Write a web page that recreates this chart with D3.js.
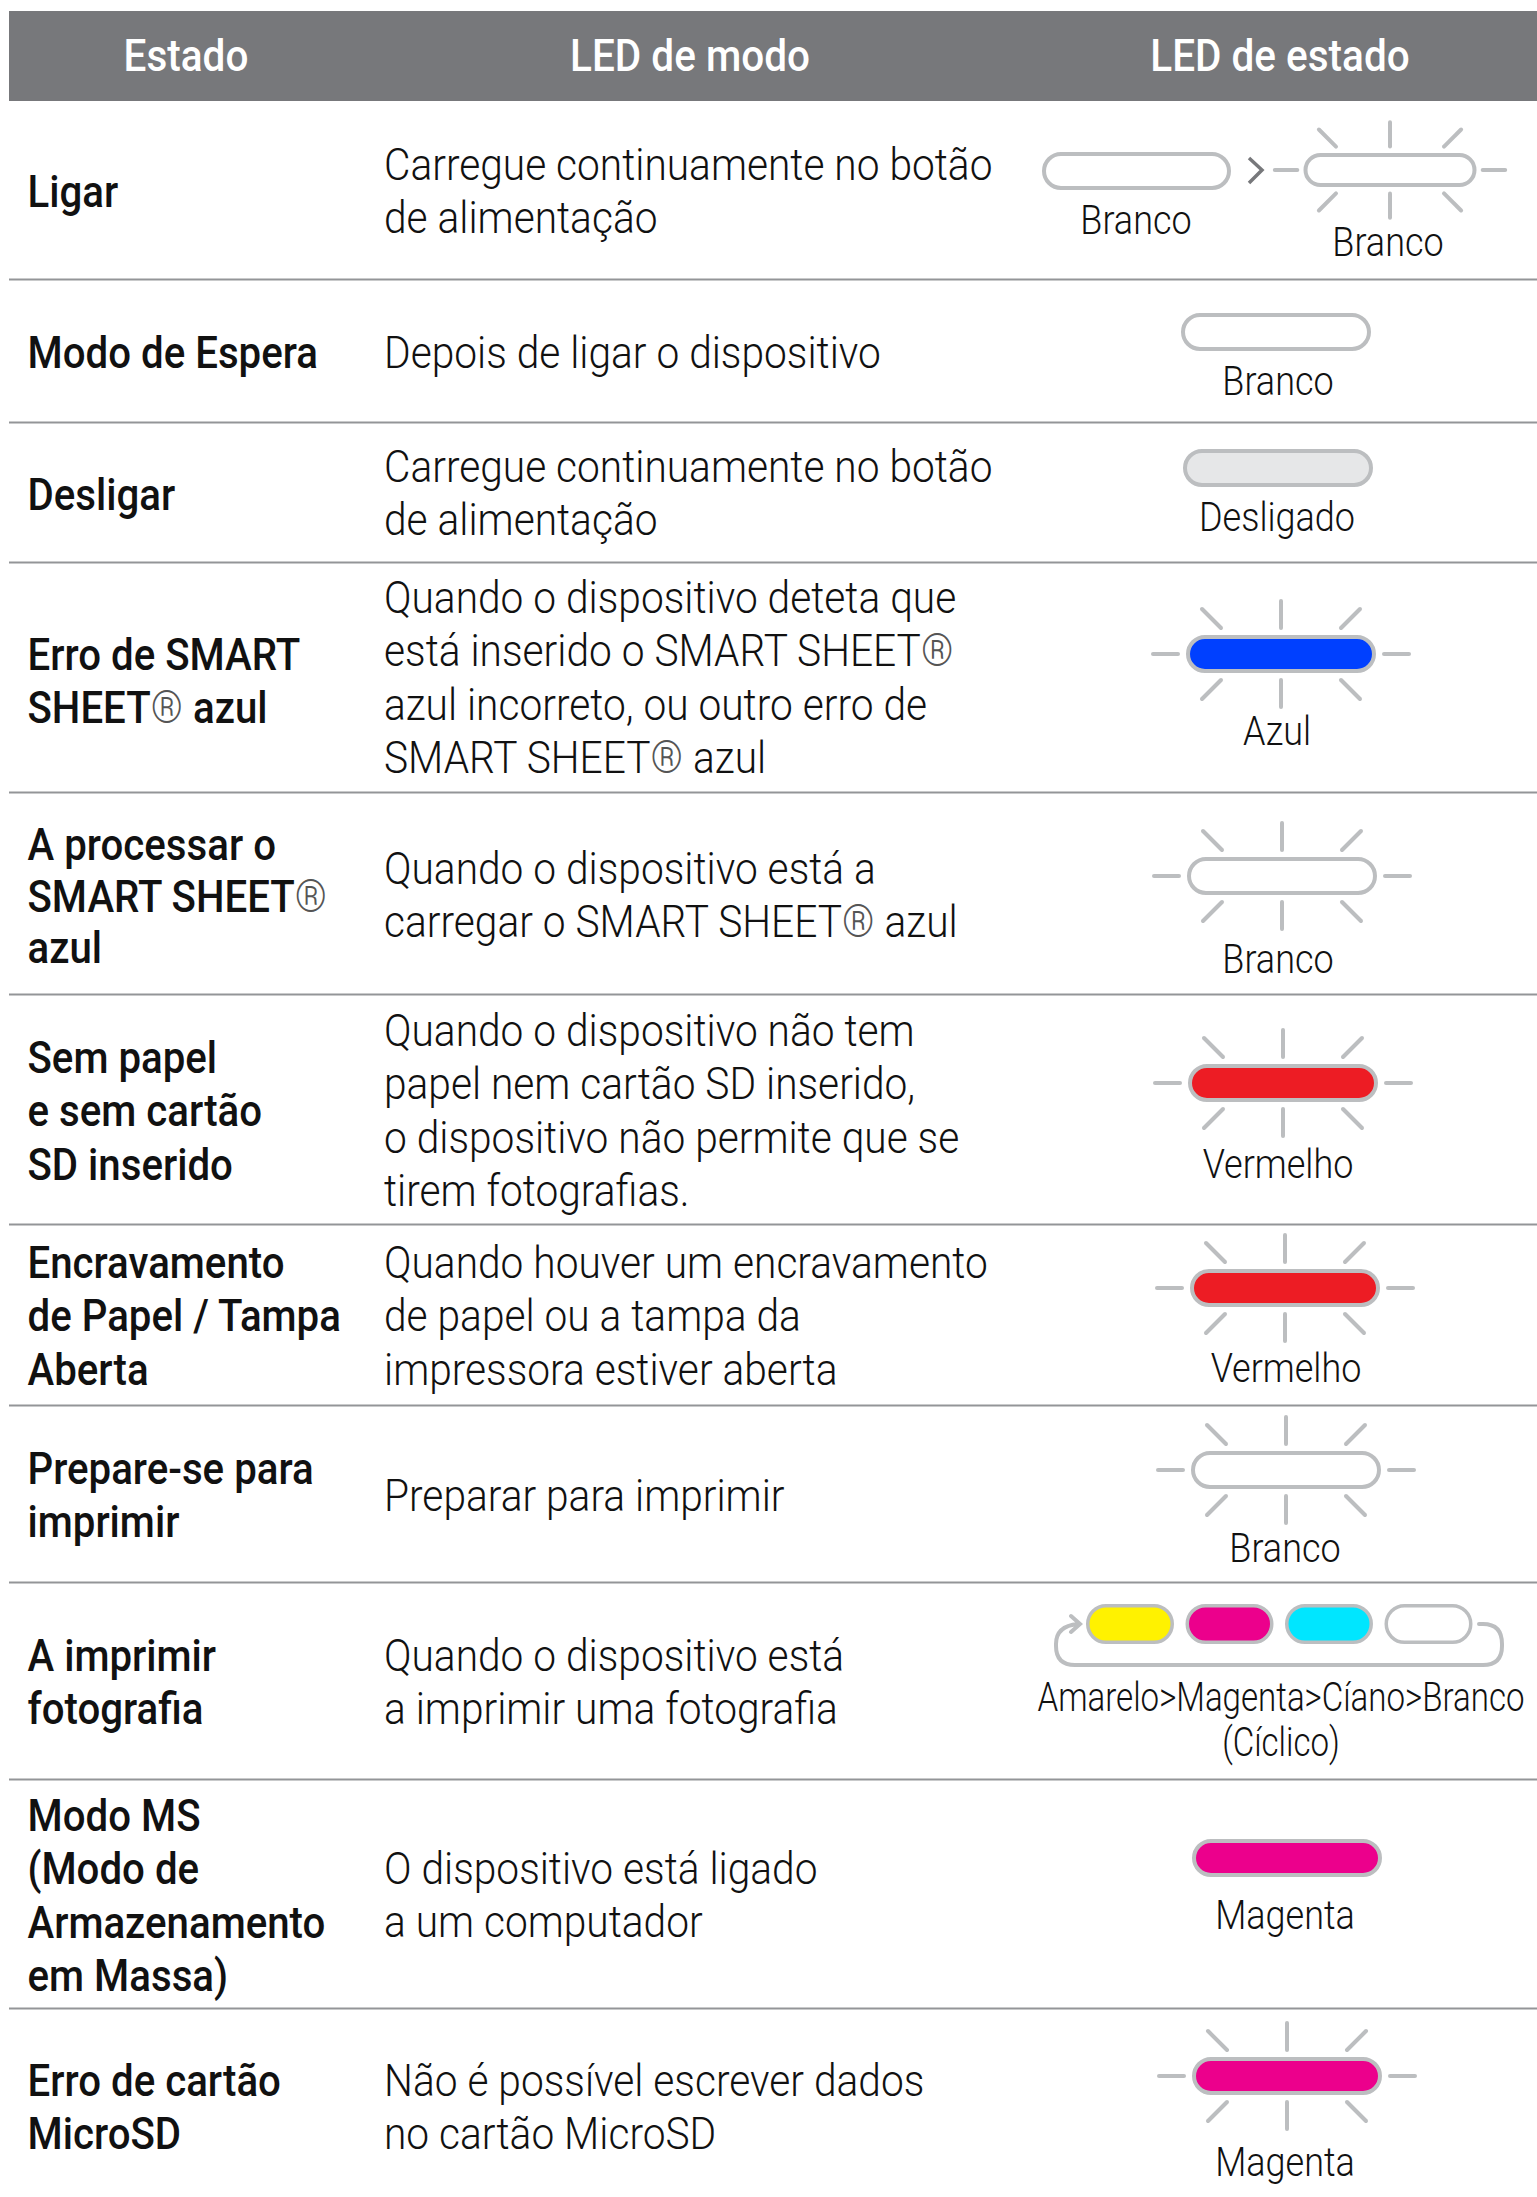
<!DOCTYPE html>
<meta charset="utf-8">
<script src="https://cdn.jsdelivr.net/npm/d3@7"></script>
<style>
html, body { margin: 0; background: #fff; }
svg { display: block; }
text { font-family: Roboto, sans-serif; fill: #111; }
.state { font-weight: 500; }
.mode, .led-label { font-weight: 300; }
.head { font-weight: 500; fill: #fff; }
.reg { font-weight: 300; fill: #555; }
.ray, .loop { fill: none; stroke: #bcbec0; stroke-linecap: round; }
</style>
<body>
<script>

// table content
var headers = ["Estado", "LED de modo", "LED de estado"];

var states = [
  ["Ligar"],
  ["Modo de Espera"],
  ["Desligar"],
  ["Erro de SMART", "SHEET® azul"],
  ["A processar o", "SMART SHEET®", "azul"],
  ["Sem papel", "e sem cartão", "SD inserido"],
  ["Encravamento", "de Papel / Tampa", "Aberta"],
  ["Prepare-se para", "imprimir"],
  ["A imprimir", "fotografia"],
  ["Modo MS", "(Modo de", "Armazenamento", "em Massa)"],
  ["Erro de cartão", "MicroSD"]
];

var modes = [
  ["Carregue continuamente no botão", "de alimentação"],
  ["Depois de ligar o dispositivo"],
  ["Carregue continuamente no botão", "de alimentação"],
  ["Quando o dispositivo deteta que", "está inserido o SMART SHEET®", "azul incorreto, ou outro erro de", "SMART SHEET® azul"],
  ["Quando o dispositivo está a", "carregar o SMART SHEET® azul"],
  ["Quando o dispositivo não tem", "papel nem cartão SD inserido,", "o dispositivo não permite que se", "tirem fotografias."],
  ["Quando houver um encravamento", "de papel ou a tampa da", "impressora estiver aberta"],
  ["Preparar para imprimir"],
  ["Quando o dispositivo está", "a imprimir uma fotografia"],
  ["O dispositivo está ligado", "a um computador"],
  ["Não é possível escrever dados", "no cartão MicroSD"]
];

var ledLabels = [
  ["Branco"], ["Branco"], ["Desligado"], ["Azul"], ["Branco"], ["Vermelho"],
  ["Vermelho"], ["Branco"], ["Amarelo>Magenta>Cíano>Branco", "(Cíclico)"], ["Magenta"], ["Magenta"]
];

// LED colour name and whether it blinks, row 0 and row 8 are drawn apart
var ledColors = ["", "branco", "desligado", "azul", "branco", "vermelho", "vermelho", "branco", "", "magenta", "magenta"];
var ledBlink = [false, false, false, true, true, true, true, true, false, false, true];
var cycle = ["amarelo", "magenta", "ciano", "branco"];

// layout
var width = 1537, height = 2197;
var left = 9, headTop = 11, headBottom = 101;
var rowBottoms = [279, 422, 562, 792, 994, 1224, 1405, 1582, 1779, 2008];
var stateY = [192, 353, 495, 654.5, 845, 1058, 1263, 1469, 1656, 1816, 2081];
var modeY = [165, 353, 467, 598, 869, 1031, 1263, 1496, 1656, 1869, 2081];
var ledX = [0, 1276, 1278, 1281, 1282, 1283, 1285, 1286, 0, 1287, 1287];
var ledY = [0, 332, 468, 654, 876, 1083, 1288, 1470, 0, 1858, 2076];
var labelX = [0, 1278, 1277, 1277, 1278, 1278, 1286, 1285, 1281, 1285, 1285];
var labelY = [0, 379.5, 515.5, 729.5, 957.5, 1162.5, 1366.5, 1546.5, 1695.5, 1913.5, 2160.5];

var lineH = 53.4, fontSize = 45, baseShift = 15;
var stateSqueeze = 0.894, modeSqueeze = 0.904, headSqueeze = 0.9, labelSqueeze = 0.9, cycleSqueeze = 0.827;
var labelSize = 40;

var fill = d3.scaleOrdinal()
    .domain(["branco", "desligado", "azul", "vermelho", "magenta", "amarelo", "ciano"])
    .range(["#ffffff", "#e6e7e8", "#0040ff", "#ed1c24", "#ec008c", "#fff200", "#00e6ff"]);

var svg = d3.select("body").append("svg")
    .attr("width", width)
    .attr("height", height);

svg.append("rect")
    .attr("x", left).attr("y", headTop)
    .attr("width", width - left).attr("height", headBottom - headTop)
    .attr("fill", "#77787b");

svg.selectAll(".rule")
    .data(rowBottoms)
    .enter().append("line")
    .attr("class", "rule")
    .attr("x1", left).attr("x2", width)
    .attr("y1", function(d) { return d + 0.5; })
    .attr("y2", function(d) { return d + 0.5; })
    .attr("stroke", "#939598")
    .attr("stroke-width", 2);

function label(cls, x, y, str, anchor, size, squeeze) {
  var t = svg.append("text")
      .attr("class", cls)
      .attr("transform", "translate(" + x + "," + (y + baseShift) + ") scale(" + squeeze + ",1)")
      .attr("text-anchor", anchor)
      .style("font-size", size + "px");
  str.split("®").forEach(function(part, i) {
    if (i > 0) t.append("tspan").attr("class", "reg").text("®");
    t.append("tspan").text(part);
  });
}

var headX = [186, 690, 1280];
headers.forEach(function(h, i) {
  label("head", headX[i], 56, h, "middle", 45, headSqueeze);
});

states.forEach(function(lines, i) {
  // the "A processar o" row is set a bit tighter
  var lh = i == 4 ? 51.5 : lineH;
  lines.forEach(function(s, j) {
    label("state", 27.5, stateY[i] + j * lh, s, "start", fontSize, stateSqueeze);
  });
});

modes.forEach(function(lines, i) {
  lines.forEach(function(s, j) {
    label("mode", 384, modeY[i] + j * lineH, s, "start", fontSize, modeSqueeze);
  });
});

// pill, optionally with rays round it, k scales the default blinking LED
function led(cx, cy, w, h, color, blink, k, sw) {
  sw = sw || 4;
  var g = svg.append("g").attr("transform", "translate(" + cx + "," + cy + ")");
  if (blink) {
    var rays = [
      [0, -26, 0, -53], [0, 26, 0, 53],
      [-103, 0, -128, 0], [103, 0, 128, 0],
      [-60, -26, -79, -45], [60, -26, 79, -45],
      [-60, 26, -79, 45], [60, 26, 79, 45]
    ];
    g.selectAll("line")
        .data(rays)
        .enter().append("line")
        .attr("class", "ray")
        .attr("x1", function(d) { return d[0] * k; })
        .attr("y1", function(d) { return d[1] * k; })
        .attr("x2", function(d) { return d[2] * k; })
        .attr("y2", function(d) { return d[3] * k; })
        .attr("stroke-width", 4);
  }
  g.append("rect")
      .attr("x", -w / 2 + sw / 2).attr("y", -h / 2 + sw / 2)
      .attr("width", w - sw).attr("height", h - sw)
      .attr("rx", (h - sw) / 2)
      .attr("fill", fill(color))
      .attr("stroke", "#bcbec0")
      .attr("stroke-width", sw);
}

// rows with a single LED
ledColors.forEach(function(c, i) {
  if (!c) return;
  led(ledX[i], ledY[i], 190, 38, c, ledBlink[i], 1);
  ledLabels[i].forEach(function(s, j) {
    label("led-label", labelX[i], labelY[i] + j * 45, s, "middle", labelSize, labelSqueeze);
  });
});

// row 0: steady LED, chevron, blinking LED
led(1136.5, 171, 189, 38, "branco", false, 1);
led(1390, 170, 173, 34, "branco", true, 0.9);
svg.append("path")
    .attr("d", "M1249,158L1262,170L1249,183")
    .attr("fill", "none")
    .attr("stroke", "#77787b")
    .attr("stroke-width", 3.5);
label("led-label", 1136, 233.5 - baseShift, "Branco", "middle", labelSize, labelSqueeze);
label("led-label", 1388, 255.5 - baseShift, "Branco", "middle", labelSize, labelSqueeze);

// row 8: the four colour cycle with its loop arrow
var cycleX = d3.scalePoint().domain(cycle).range([1130, 1428.5]);
cycle.forEach(function(c) {
  led(cycleX(c), 1624, 88, 40, c, false, 1, 3.5);
});
svg.append("path")
    .attr("class", "loop")
    .attr("stroke-width", 4)
    .attr("d", "M1479,1624H1483Q1502,1624 1502,1644V1646Q1502,1665 1483,1665H1075Q1056,1665 1056,1646V1644Q1056,1626 1078,1624M1071,1616L1080,1624L1071,1632");
ledLabels[8].forEach(function(s, j) {
  label("led-label", labelX[8], labelY[8] + j * 45, s, "middle", labelSize, cycleSqueeze);
});

</script>
</body>
</html>
